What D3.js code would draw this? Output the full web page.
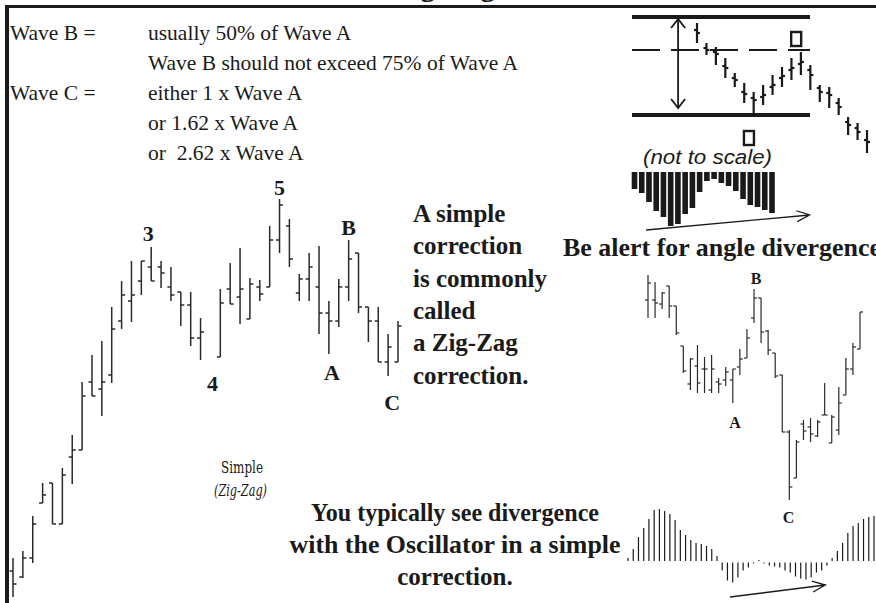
<!DOCTYPE html>
<html><head><meta charset="utf-8">
<script src="https://cdn.jsdelivr.net/npm/d3@7"></script>
<style>body{margin:0;background:#fff}svg{display:block}</style>
</head><body>
<svg id="c" width="876" height="603"></svg>
<script>
// ---------- main Elliott wave bars (price units) ----------
const mainT     = [0,1,2,3,4,5,6,7,8,9,10,11,12,13,14,15,16,17,18,19,21,22,23,24,25,26,27,28,29,30,31,32,33,34,35,36,37,38,39];
const mainHigh  = [45,52,87,120,120,135,168,221,248,262,296,322,342,342,356,342,336,311,311,285,314,340,355,325,323,377,404,384,329,350,357,302,324,363,350,296,296,269,282];
const mainLow   = [6,25,40,100,79,79,119,153,207,187,220,274,281,308,322,315,302,277,257,243,246,299,279,284,302,316,350,336,302,302,269,249,276,302,290,261,241,227,241];
const mainOpen  = [32,26,45,100,120,79,146,153,221,214,228,282,302,322,336,336,316,311,298,265,246,314,306,284,316,316,363,377,310,324,316,290,282,316,350,296,282,241,241];
const mainClose = [19,45,79,108,79,128,153,207,207,221,274,308,308,342,322,330,308,298,265,271,300,299,314,319,309,363,398,344,324,336,290,282,316,344,296,282,241,256,277];
const mainLabels = ["3","5","B","4","A","C"];
const mainLabelT = [13.7,27.0,34.0,20.2,32.3,38.4];
const mainLabelP = [370,416,376,220,231,201];

// ---------- right-hand correction bars ----------
const rightHigh  = [328,321,311,317,297,257,245,258,246,248,225,236,234,254,274,314,305,273,250,228,173,163,183,185,183,220,188,216,245,260,291];
const rightLow   = [285,285,294,285,268,230,213,210,210,210,210,217,200,228,245,280,260,248,225,171,103,125,163,161,166,188,160,168,208,228,254];
const rightOpen  = [303,303,299,317,297,257,219,237,234,213,221,223,223,236,245,285,305,272,250,228,171,125,179,176,167,188,160,173,208,234,254];
const rightClose = [320,300,310,297,270,232,244,220,234,234,219,231,234,244,265,305,271,253,227,171,116,161,172,169,181,188,186,200,234,256,291];
const rightLabels = ["B","A","C"];
const rightLabelT = [15.3,12.3,19.9];
const rightLabelP = [325,181,86];

// ---------- top-right "not to scale" diagram ----------
const diagHigh  = [137,117,113,102,87,77,68,75,85,93,102,108,95,75,73,62,43,37,30];
const diagLow   = [117,105,95,82,73,57,45,55,65,73,80,85,70,58,52,45,25,20,7];
const diagOpen  = [130,112,108,94,82,68,62,63,73,82,90,96,90,72,67,57,38,32,20];
const diagClose = [127,110,106,92,80,66,60,65,75,84,92,98,85,68,65,53,35,28,18];
const diagLevels = [143,110,45];          // top, 50% (dashed), bottom
const diagBoxesT = [10.5,5.5];
const diagBoxesP = [121,22];
const histDepth = [17,21,30,39,45,54,52,42,36,20,9,7,11,14,19,27,33,35,38,41];

// ---------- oscillator ----------
const oscValues = [3,12,24,33,42,51,52,50,47,41,31,26,21,18,17,15,12,5,-8,-18,-20,-15,-8,-5,-1,1,-1,-3,-4,-5,-8,-10,-14,-16,-17,-15,-10,-8,-3,3,10,18,28,35,38,42,44,45];

// ---------- text ----------
const rulesLeft  = ["Wave B =","","Wave C =","",""];
const rulesRight = ["usually 50% of Wave A","Wave B should not exceed 75% of Wave A","either 1 x Wave A","or 1.62 x Wave A","or  2.62 x Wave A"];
const simpleNote = ["A simple","correction","is commonly","called","a Zig-Zag","correction."];
const divNote = ["You typically see divergence","with the Oscillator in a simple","correction."];
const divNoteWidth = [288,331,null];

const svg = d3.select("#c");
const INK = "#1a1a1a";
const serif = "'Liberation Serif','Times New Roman',serif";

// frame
svg.append("rect").attr("width",876).attr("height",603).attr("fill","#fff");
svg.append("text").attr("x",392).attr("y",-4).attr("font-family",serif).attr("font-weight","bold")
  .attr("font-size",30).attr("fill",INK).text("Zig-Zag");
svg.append("line").attr("x1",5).attr("x2",876).attr("y1",6.5).attr("y2",6.5).attr("stroke",INK).attr("stroke-width",3);
svg.append("line").attr("x1",7).attr("x2",7).attr("y1",5).attr("y2",603).attr("stroke",INK).attr("stroke-width",4);

// OHLC helper
function ohlc(g, xs, hi, lo, op, cl, x, y, tick, sw, color){
  const grp = g.append("g").attr("stroke",color).attr("stroke-width",sw).attr("fill","none");
  xs.forEach((t,i)=>{
    const cx = x(t);
    grp.append("line").attr("x1",cx).attr("x2",cx).attr("y1",y(hi[i])).attr("y2",y(lo[i]));
    grp.append("line").attr("x1",cx-tick).attr("x2",cx).attr("y1",y(op[i])).attr("y2",y(op[i]));
    grp.append("line").attr("x1",cx).attr("x2",cx+tick).attr("y1",y(cl[i])).attr("y2",y(cl[i]));
  });
}

// main chart
const xMain = d3.scaleLinear().domain([0,39]).range([13,398]);
const yMain = d3.scaleLinear().domain([0,600]).range([603,3]);
ohlc(svg, mainT, mainHigh, mainLow, mainOpen, mainClose, xMain, yMain, 3.5, 1.5, "#2a2a2a");
svg.append("g").selectAll("text").data(mainLabels).join("text")
  .attr("x",(d,i)=>xMain(mainLabelT[i])).attr("y",(d,i)=>yMain(mainLabelP[i]))
  .attr("text-anchor","middle").attr("dominant-baseline","central")
  .attr("font-family",serif).attr("font-weight","bold").attr("font-size",22).attr("fill",INK).text(d=>d);

// right chart
const rIdx = d3.range(rightHigh.length);
const xR = d3.scaleLinear().domain([0,30]).range([648,860]);
const yR = d3.scaleLinear().domain([0,600]).range([603,3]);
ohlc(svg, rIdx, rightHigh, rightLow, rightOpen, rightClose, xR, yR, 3, 1.2, "#2a2a2a");
svg.append("g").selectAll("text").data(rightLabels).join("text")
  .attr("x",(d,i)=>xR(rightLabelT[i])).attr("y",(d,i)=>yR(rightLabelP[i]))
  .attr("text-anchor","middle").attr("dominant-baseline","central")
  .attr("font-family",serif).attr("font-weight","bold").attr("font-size",16).attr("fill",INK).text(d=>d);

// diagram
const dIdx = d3.range(diagHigh.length);
const xD = d3.scaleLinear().domain([0,18]).range([697,867]);
const yD = d3.scaleLinear().domain([0,160]).range([160,0]);
diagLevels.forEach((v,i)=>{
  svg.append("line").attr("x1",632).attr("x2",810).attr("y1",yD(v)).attr("y2",yD(v))
    .attr("stroke",INK).attr("stroke-width",i===1?1.8:4)
    .attr("stroke-dasharray",i===1?"28,11":null);
});
ohlc(svg, dIdx, diagHigh, diagLow, diagOpen, diagClose, xD, yD, 3, 2.2, INK);
// double arrow
const ax = xD(-2), ay1 = yD(diagLevels[0]-2), ay2 = yD(diagLevels[2]+7);
svg.append("line").attr("x1",ax).attr("x2",ax).attr("y1",ay1).attr("y2",ay2).attr("stroke",INK).attr("stroke-width",1.8);
svg.append("path").attr("d",`M${ax-7},${ay1+9}L${ax},${ay1}L${ax+7},${ay1+9}M${ax-7},${ay2-9}L${ax},${ay2}L${ax+7},${ay2-9}`)
  .attr("fill","none").attr("stroke",INK).attr("stroke-width",1.8);
// boxes
diagBoxesT.forEach((t,i)=>{
  svg.append("rect").attr("x",xD(t)-5).attr("y",yD(diagBoxesP[i])-7).attr("width",10).attr("height",14)
    .attr("fill","#fff").attr("stroke",INK).attr("stroke-width",2.4);
});
svg.append("text").attr("x",643).attr("y",164)
  .attr("font-family","'Liberation Sans',Arial,sans-serif").attr("font-style","italic").attr("font-size",20)
  .attr("textLength",129).attr("lengthAdjust","spacingAndGlyphs")
  .attr("fill",INK).text("(not to scale)");
// histogram
const xH = d3.scaleLinear().domain([0,19]).range([634.5,772]);
const yH = d3.scaleLinear().domain([0,60]).range([172,232]);
svg.append("g").selectAll("rect").data(histDepth).join("rect")
  .attr("x",(d,i)=>xH(i)-2.8).attr("width",5.6).attr("y",yH(0)).attr("height",d=>yH(d)-yH(0)).attr("fill",INK);
{
  const x1=xH(1.6), y1=yH(58), x2=xH(24.2), y2=yH(43);
  const a=Math.atan2(y2-y1,x2-x1), L=14;
  svg.append("path").attr("d",`M${x1},${y1}L${x2},${y2}M${x2-L*Math.cos(a-0.4)},${y2-L*Math.sin(a-0.4)}L${x2},${y2}L${x2-L*Math.cos(a+0.4)},${y2-L*Math.sin(a+0.4)}`)
    .attr("fill","none").attr("stroke",INK).attr("stroke-width",1.3);
}

// oscillator
const xO = d3.scaleLinear().domain([0,47]).range([628,874]);
const yO = d3.scaleLinear().domain([-60,60]).range([621,501]);
svg.append("g").attr("stroke",INK).attr("stroke-width",1.2).selectAll("line").data(oscValues).join("line")
  .attr("x1",(d,i)=>xO(i)).attr("x2",(d,i)=>xO(i))
  .attr("y1",d=>d>=0?yO(0):yO(0)+1.5).attr("y2",d=>d>=0?yO(d):yO(d)+1.5);
{
  const x1=xO(19.5), y1=yO(-36), x2=xO(37.7), y2=yO(-24);
  const a=Math.atan2(y2-y1,x2-x1), L=14;
  svg.append("path").attr("d",`M${x1},${y1}L${x2},${y2}M${x2-L*Math.cos(a-0.4)},${y2-L*Math.sin(a-0.4)}L${x2},${y2}L${x2-L*Math.cos(a+0.4)},${y2-L*Math.sin(a+0.4)}`)
    .attr("fill","none").attr("stroke",INK).attr("stroke-width",1.3);
}

// texts
const rl = svg.append("g").attr("font-family",serif).attr("font-size",21.5).attr("fill",INK);
rulesLeft.forEach((t,i)=>{ if(t) rl.append("text").attr("x",10).attr("y",40+i*30).text(t); });
rulesRight.forEach((t,i)=>{ rl.append("text").attr("x",148).attr("y",40+i*30).style("white-space","pre").text(t); });

const sn = svg.append("g").attr("font-family",serif).attr("font-weight","bold").attr("font-size",25).attr("fill",INK);
simpleNote.forEach((t,i)=>{ sn.append("text").attr("x",413).attr("y",222+i*32.3).text(t); });

svg.append("text").attr("x",563).attr("y",256).attr("font-family",serif).attr("font-weight","bold")
  .attr("font-size",25).attr("textLength",318).attr("lengthAdjust","spacingAndGlyphs")
  .attr("fill",INK).text("Be alert for angle divergence");

const dn = svg.append("g").attr("font-family",serif).attr("font-weight","bold").attr("font-size",25)
  .attr("fill",INK).attr("text-anchor","middle");
divNote.forEach((t,i)=>{
  const el = dn.append("text").attr("x",455).attr("y",521+i*32).text(t);
  if (divNoteWidth[i]) el.attr("textLength",divNoteWidth[i]).attr("lengthAdjust","spacingAndGlyphs");
});

svg.append("text").attr("x",221).attr("y",473).attr("font-family","'DejaVu Serif',serif")
  .attr("font-size",16).attr("textLength",42).attr("lengthAdjust","spacingAndGlyphs").attr("fill",INK).text("Simple");
svg.append("text").attr("x",214).attr("y",496).attr("font-family","'DejaVu Serif',serif")
  .attr("font-style","italic").attr("font-size",16).attr("textLength",53).attr("lengthAdjust","spacingAndGlyphs")
  .attr("fill",INK).text("(Zig-Zag)");
</script>
</body></html>
